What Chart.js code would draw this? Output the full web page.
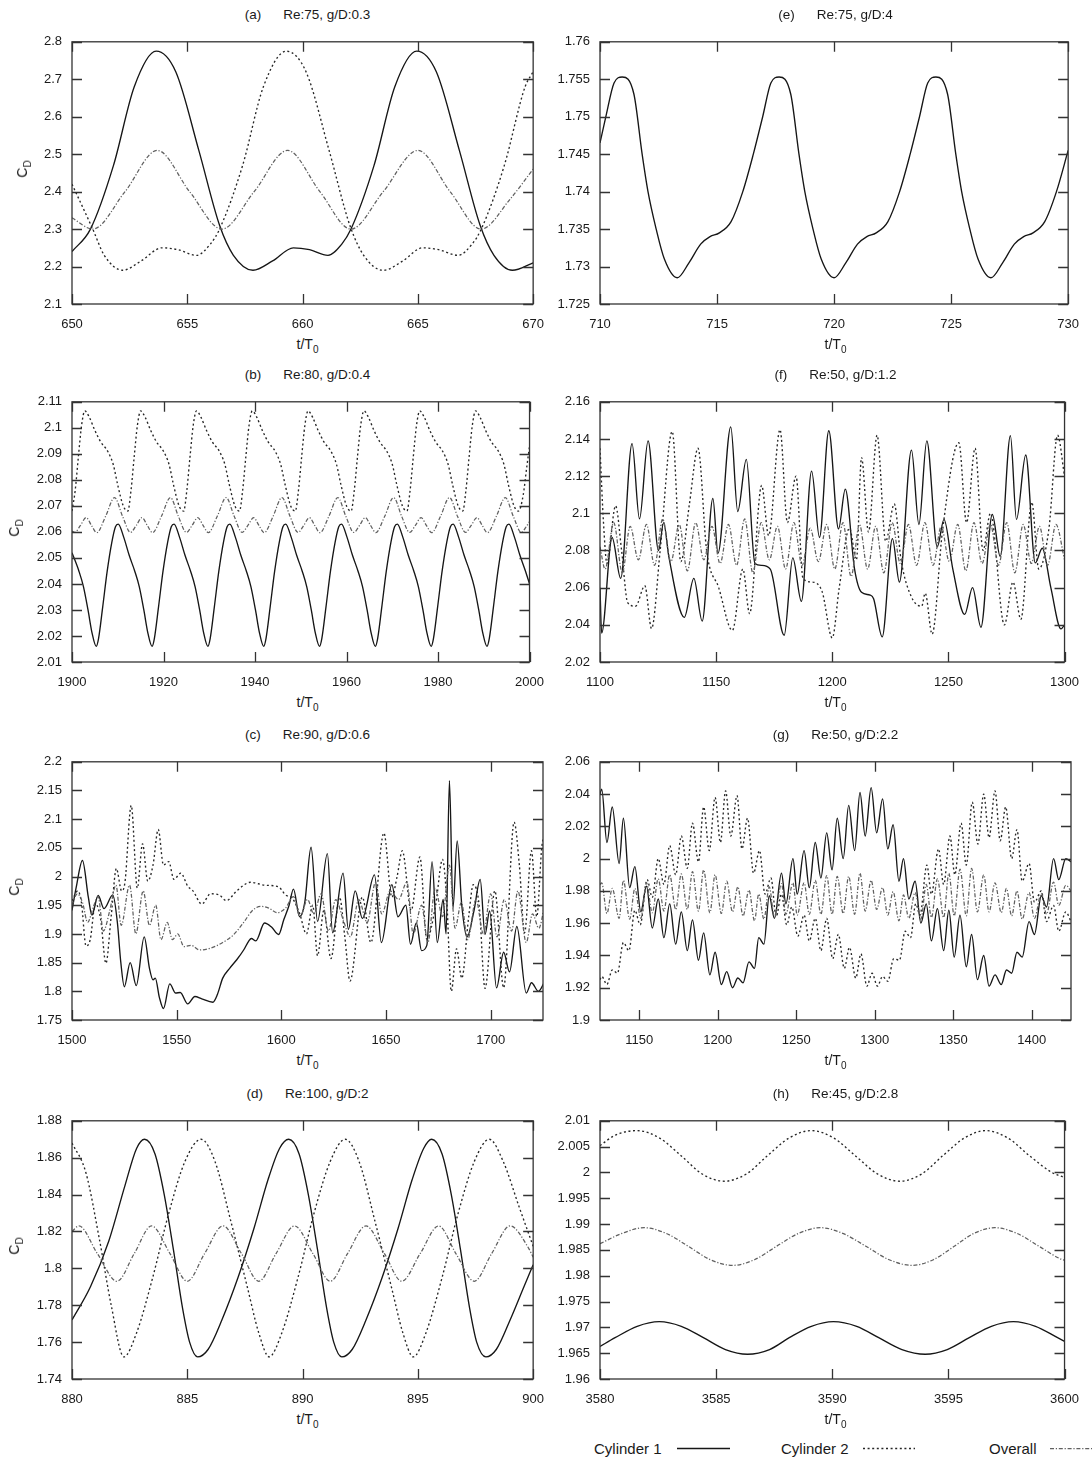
<!DOCTYPE html>
<html>
<head>
<meta charset="utf-8">
<title>Drag coefficient time histories</title>
<script src="https://cdn.jsdelivr.net/npm/chart.js@4.4.1/dist/chart.umd.min.js"></script>
<style>
html,body{margin:0;padding:0;background:#fff;}
#page{position:relative;width:1092px;height:1460px;overflow:hidden;font-family:"Liberation Sans",Arial,Helvetica,sans-serif;color:#1a1a1a;}
#page canvas{position:absolute;}
.ttl,.xl,.yl,.lg{position:absolute;white-space:nowrap;line-height:1;}
.ttl{font-size:13.5px;transform:translate(-50%,-50%);}
.ttl span+span{margin-left:22px;}
.xl{font-size:14px;transform:translate(-50%,-50%);}
.yl{font-size:14px;transform:translate(-50%,-50%) rotate(-90deg);}
.xl sub,.yl sub{font-size:10px;vertical-align:-4px;}
.lg{font-size:15px;transform:translateY(-50%);}
</style>
</head>
<body>
<div id="page"></div>
<script>
// ---------------- Panel (a) Re:75, g/D:0.3 ----------------
const A_XT = ['650','655','660','665','670'];
const A_YT = ['2.1','2.2','2.3','2.4','2.5','2.6','2.7','2.8'];
const A_XR = [650, 670];
const A_C1_T = [650,650.8,651.8,652.7,653.65,654.5,655.5,656.4,657.0,657.85,658.7,659.6,660.3,661.1,661.7,662.1,663.1,664.0,664.95,665.8,666.8,667.7,668.3,669.1,670];
const A_C1   = [2.24,2.30,2.47,2.68,2.775,2.72,2.51,2.31,2.23,2.19,2.215,2.25,2.245,2.23,2.26,2.30,2.47,2.68,2.775,2.72,2.51,2.31,2.23,2.19,2.21];
const A_C2_T = [650,650.9,651.4,652.2,653.0,653.9,654.6,655.4,656.0,656.4,657.4,658.3,659.3,660.15,661.15,662.05,662.65,663.5,664.35,665.2,665.9,666.75,667.35,667.75,668.75,669.65,670];
const A_C2   = [2.42,2.30,2.23,2.19,2.215,2.25,2.245,2.23,2.26,2.30,2.47,2.68,2.775,2.72,2.51,2.31,2.23,2.19,2.215,2.25,2.245,2.23,2.26,2.30,2.47,2.68,2.72];
const A_OV_T = [650,650.9,652.3,653.7,655.1,656.5,657.9,659.35,660.75,662.1,663.5,665.0,666.4,667.75,669.0,670];
const A_OV   = [2.33,2.30,2.40,2.51,2.40,2.30,2.40,2.51,2.40,2.30,2.40,2.51,2.40,2.30,2.38,2.46];

// ---------------- Panel (b) Re:80, g/D:0.4 ----------------
const B_XT = ['1900','1920','1940','1960','1980','2000'];
const B_YT = ['2.01','2.02','2.03','2.04','2.05','2.06','2.07','2.08','2.09','2.1','2.11'];
const B_XR = [1900, 2000];
const B_C1_T = [1900.0,1901.5,1902.5,1903.5,1904.4,1905.3,
 1905.8,1906.7,1907.7,1908.7,1909.5,1910.1,1911.3,1912.5,1913.7,1914.7,1915.7,1916.6,1917.5,
 1918.0,1918.9,1919.9,1920.9,1921.7,1922.3,1923.5,1924.7,1925.9,1926.9,1927.9,1928.8,1929.7,
 1930.2,1931.1,1932.1,1933.1,1933.9,1934.5,1935.7,1936.9,1938.1,1939.1,1940.1,1941.0,1941.9,
 1942.4,1943.3,1944.3,1945.3,1946.1,1946.7,1947.9,1949.1,1950.3,1951.3,1952.3,1953.2,1954.1,
 1954.6,1955.5,1956.5,1957.5,1958.3,1958.9,1960.1,1961.3,1962.5,1963.5,1964.5,1965.4,1966.3,
 1966.8,1967.7,1968.7,1969.7,1970.5,1971.1,1972.3,1973.5,1974.7,1975.7,1976.7,1977.6,1978.5,
 1979.0,1979.9,1980.9,1981.9,1982.7,1983.3,1984.5,1985.7,1986.9,1987.9,1988.9,1989.8,1990.7,
 1991.2,1992.1,1993.1,1994.1,1994.9,1995.5,1996.7,1997.9,1999.1,2000.0];
const B_C1 = [2.052,2.045,2.039,2.030,2.021,2.016,
 2.019,2.031,2.045,2.056,2.062,2.063,2.058,2.051,2.045,2.039,2.030,2.021,2.016,
 2.019,2.031,2.045,2.056,2.062,2.063,2.058,2.051,2.045,2.039,2.030,2.021,2.016,
 2.019,2.031,2.045,2.056,2.062,2.063,2.058,2.051,2.045,2.039,2.030,2.021,2.016,
 2.019,2.031,2.045,2.056,2.062,2.063,2.058,2.051,2.045,2.039,2.030,2.021,2.016,
 2.019,2.031,2.045,2.056,2.062,2.063,2.058,2.051,2.045,2.039,2.030,2.021,2.016,
 2.019,2.031,2.045,2.056,2.062,2.063,2.058,2.051,2.045,2.039,2.030,2.021,2.016,
 2.019,2.031,2.045,2.056,2.062,2.063,2.058,2.051,2.045,2.039,2.030,2.021,2.016,
 2.019,2.031,2.045,2.056,2.062,2.063,2.058,2.051,2.045,2.040];
const B_C2_T = [1900.0,1900.7,1901.4,1902.1,1902.8,
 1903.8,1905.0,1906.3,1907.8,1909.0,1910.0,1911.2,1912.2,1912.9,1913.6,1914.3,1915.0,
 1916.0,1917.2,1918.5,1920.0,1921.2,1922.2,1923.4,1924.4,1925.1,1925.8,1926.5,1927.2,
 1928.2,1929.4,1930.7,1932.2,1933.4,1934.4,1935.6,1936.6,1937.3,1938.0,1938.7,1939.4,
 1940.4,1941.6,1942.9,1944.4,1945.6,1946.6,1947.8,1948.8,1949.5,1950.2,1950.9,1951.6,
 1952.6,1953.8,1955.1,1956.6,1957.8,1958.8,1960.0,1961.0,1961.7,1962.4,1963.1,1963.8,
 1964.8,1966.0,1967.3,1968.8,1970.0,1971.0,1972.2,1973.2,1973.9,1974.6,1975.3,1976.0,
 1977.0,1978.2,1979.5,1981.0,1982.2,1983.2,1984.4,1985.4,1986.1,1986.8,1987.5,1988.2,
 1989.2,1990.4,1991.7,1993.2,1994.4,1995.4,1996.6,1997.6,1998.6,1999.4,2000.0];
const B_C2 = [2.068,2.076,2.089,2.101,2.1065,
 2.104,2.099,2.0945,2.091,2.086,2.078,2.070,2.068,2.076,2.089,2.101,2.1065,
 2.104,2.099,2.0945,2.091,2.086,2.078,2.070,2.068,2.076,2.089,2.101,2.1065,
 2.104,2.099,2.0945,2.091,2.086,2.078,2.070,2.068,2.076,2.089,2.101,2.1065,
 2.104,2.099,2.0945,2.091,2.086,2.078,2.070,2.068,2.076,2.089,2.101,2.1065,
 2.104,2.099,2.0945,2.091,2.086,2.078,2.070,2.068,2.076,2.089,2.101,2.1065,
 2.104,2.099,2.0945,2.091,2.086,2.078,2.070,2.068,2.076,2.089,2.101,2.1065,
 2.104,2.099,2.0945,2.091,2.086,2.078,2.070,2.068,2.076,2.089,2.101,2.1065,
 2.104,2.099,2.0945,2.091,2.086,2.078,2.070,2.068,2.074,2.085,2.093];
const B_OV_T = [1900.0,1900.6,1901.85,
 1903.1,1904.25,1905.4,1907.35,1909.3,1911.05,1912.8,1914.05,
 1915.3,1916.45,1917.6,1919.55,1921.5,1923.25,1925.0,1926.25,
 1927.5,1928.65,1929.8,1931.75,1933.7,1935.45,1937.2,1938.45,
 1939.7,1940.85,1942.0,1943.95,1945.9,1947.65,1949.4,1950.65,
 1951.9,1953.05,1954.2,1956.15,1958.1,1959.85,1961.6,1962.85,
 1964.1,1965.25,1966.4,1968.35,1970.3,1972.05,1973.8,1975.05,
 1976.3,1977.45,1978.6,1980.55,1982.5,1984.25,1986.0,1987.25,
 1988.5,1989.65,1990.8,1992.75,1994.7,1996.45,1998.2,1999.45,2000.0];
const B_OV = [2.0603,2.0598,2.0625,
 2.0655,2.0625,2.0597,2.066,2.0732,2.066,2.0598,2.0625,
 2.0655,2.0625,2.0597,2.066,2.0732,2.066,2.0598,2.0625,
 2.0655,2.0625,2.0597,2.066,2.0732,2.066,2.0598,2.0625,
 2.0655,2.0625,2.0597,2.066,2.0732,2.066,2.0598,2.0625,
 2.0655,2.0625,2.0597,2.066,2.0732,2.066,2.0598,2.0625,
 2.0655,2.0625,2.0597,2.066,2.0732,2.066,2.0598,2.0625,
 2.0655,2.0625,2.0597,2.066,2.0732,2.066,2.0598,2.0625,
 2.0655,2.0625,2.0597,2.066,2.0732,2.066,2.0598,2.0625,2.064];

// ---------------- Panel (c) Re:90, g/D:0.6 ----------------
const C_XT = ['1500','1550','1600','1650','1700'];
const C_YT = ['1.75','1.8','1.85','1.9','1.95','2','2.05','2.1','2.15','2.2'];
const C_XR = [1500, 1725];
const C_C1_T = [1500.0,1502.0,1505.0,1507.8,1509.5,1512.5,1515.3,1519.5,1521.7,1523.3,1525.0,1527.8,1530.7,1534.5,1537.0,1538.7,1539.8,1541.7,1543.7,1546.7,1549.5,1551.7,1555.3,1558.7,1562.0,1567.3,1569.5,1572.0,1575.3,1578.7,1582.0,1584.5,1585.7,1587.8,1592.0,1595.3,1598.7,1601.2,1603.7,1605.8,1608.7,1611.2,1614.2,1617.3,1622.0,1624.5,1629.5,1632.0,1635.3,1638.7,1644.5,1647.8,1652.8,1655.7,1659.5,1661.7,1664.5,1667.0,1669.5,1672.0,1674.5,1677.3,1678.7,1680.3,1682.0,1684.0,1686.2,1688.7,1692.0,1695.0,1697.3,1699.5,1702.8,1706.2,1709.0,1712.5,1717.0,1719.5,1722.8,1725.8];
const C_C1   = [1.941,1.981,2.028,1.964,1.933,1.967,1.944,1.968,1.919,1.851,1.808,1.850,1.810,1.895,1.840,1.820,1.823,1.790,1.770,1.813,1.797,1.798,1.778,1.791,1.787,1.781,1.795,1.823,1.840,1.855,1.872,1.888,1.892,1.888,1.919,1.912,1.899,1.925,1.950,1.978,1.930,1.955,2.051,1.922,2.040,1.902,2.006,1.908,1.975,1.927,2.003,1.885,1.986,1.930,1.950,1.882,1.919,1.871,1.880,2.026,1.885,1.960,1.900,2.167,1.945,2.062,1.950,1.895,1.940,1.995,1.899,1.940,1.806,1.868,1.834,1.913,1.797,1.815,1.800,1.817];
const C_C2_T = [1500.0,1502.8,1504.5,1506.7,1508.7,1511.2,1513.7,1516.2,1518.7,1521.2,1523.7,1525.3,1528.3,1531.2,1533.7,1536.2,1538.7,1541.2,1543.7,1546.2,1548.7,1552.0,1555.3,1557.8,1562.0,1566.2,1570.3,1573.7,1578.7,1585.3,1592.0,1598.7,1602.0,1605.3,1608.7,1612.0,1615.0,1617.3,1620.3,1623.7,1627.8,1630.3,1632.8,1638.7,1642.8,1649.0,1652.8,1655.3,1657.8,1662.0,1666.2,1669.5,1673.7,1677.0,1679.0,1681.2,1683.7,1686.2,1689.5,1691.7,1694.5,1697.3,1702.0,1706.2,1711.2,1713.7,1716.2,1719.5,1722.0,1724.5,1725.8];
const C_C2   = [1.958,1.975,1.955,1.879,1.890,1.953,1.925,1.849,1.930,2.014,1.975,1.990,2.124,1.980,2.057,1.992,2.020,2.082,2.020,2.026,1.995,2.006,1.983,1.975,1.952,1.970,1.968,1.958,1.975,1.990,1.985,1.982,1.968,1.962,1.936,1.900,1.950,1.862,1.941,1.857,1.964,1.896,1.818,1.964,1.885,2.076,1.964,2.000,2.045,1.941,2.034,1.891,1.950,2.030,1.960,1.800,1.874,1.823,1.930,1.986,1.950,1.805,1.975,1.806,2.095,2.020,1.902,2.045,1.930,2.054,2.070];
const C_OV_T = [1500.0,1502.5,1505.0,1507.5,1510.0,1512.5,1515.0,1518.0,1521.0,1523.5,1527.5,1530.5,1534.0,1537.0,1540.0,1542.5,1545.5,1548.0,1550.5,1553.5,1557.0,1561.0,1566.0,1572.0,1577.0,1582.0,1586.0,1590.0,1594.0,1598.0,1602.0,1605.8,1609.0,1612.5,1615.5,1619.0,1622.5,1626.0,1629.5,1633.0,1637.0,1641.0,1645.0,1648.0,1652.0,1656.0,1660.0,1663.0,1667.0,1670.0,1673.5,1677.0,1680.3,1683.0,1686.0,1689.0,1693.0,1696.5,1700.0,1703.0,1706.5,1710.0,1713.0,1717.0,1720.0,1723.0,1725.8];
const C_OV   = [1.950,1.970,1.955,1.920,1.945,1.965,1.905,1.940,1.985,1.915,1.985,1.900,1.975,1.915,1.950,1.890,1.920,1.890,1.900,1.878,1.880,1.872,1.875,1.885,1.898,1.920,1.940,1.948,1.945,1.937,1.945,1.965,1.930,1.960,1.935,1.970,1.905,1.960,1.925,1.895,1.960,1.920,1.990,1.935,1.975,1.960,1.990,1.900,1.950,1.885,1.980,1.930,2.020,1.910,1.955,1.890,1.960,1.900,1.970,1.895,1.960,1.905,1.975,1.885,1.935,1.910,1.950];

// ---------------- Panel (d) Re:100, g/D:2 ----------------
const D_XT = ['880','885','890','895','900'];
const D_YT = ['1.74','1.76','1.78','1.8','1.82','1.84','1.86','1.88'];
const D_XR = [880, 900];
const D_C1_T = [880,880.8,881.6,882.3,882.8,883.15,883.6,884.0,884.4,884.8,885.1,885.45,885.9,886.5,887.2,887.9,888.5,889.0,889.4,889.85,890.25,890.65,891.05,891.35,891.7,892.15,892.75,893.45,894.15,894.75,895.25,895.6,896.05,896.45,896.85,897.25,897.55,897.95,898.4,899.0,899.6,900];
const D_C1   = [1.772,1.790,1.815,1.845,1.865,1.870,1.862,1.840,1.810,1.778,1.760,1.752,1.756,1.772,1.795,1.822,1.848,1.865,1.870,1.862,1.840,1.810,1.778,1.760,1.752,1.756,1.772,1.795,1.822,1.848,1.865,1.870,1.862,1.840,1.810,1.778,1.760,1.752,1.756,1.772,1.790,1.802];
const D_C2_T = [880,880.6,881.2,881.7,882.25,882.8,883.5,884.2,884.9,885.6,886.2,886.9,887.6,888.1,888.55,889.1,889.8,890.5,891.2,891.85,892.45,893.15,893.85,894.35,894.8,895.35,896.05,896.75,897.45,898.1,898.7,899.4,900];
const D_C2   = [1.868,1.852,1.815,1.780,1.752,1.765,1.795,1.830,1.858,1.870,1.858,1.825,1.790,1.765,1.752,1.765,1.795,1.830,1.858,1.870,1.858,1.825,1.790,1.765,1.752,1.765,1.795,1.830,1.858,1.870,1.858,1.833,1.812];
const D_OV_T = [880,880.3,881.1,881.95,882.7,883.45,884.25,885.0,885.75,886.55,887.35,888.1,888.85,889.65,890.45,891.2,891.95,892.75,893.55,894.3,895.1,895.9,896.65,897.45,898.2,899.0,899.8,900];
const D_OV   = [1.820,1.823,1.808,1.793,1.808,1.823,1.808,1.793,1.808,1.823,1.808,1.793,1.808,1.823,1.808,1.793,1.808,1.823,1.808,1.793,1.808,1.823,1.808,1.793,1.808,1.823,1.811,1.806];

// ---------------- Panel (e) Re:75, g/D:4 ----------------
const E_XT = ['710','715','720','725','730'];
const E_YT = ['1.725','1.73','1.735','1.74','1.745','1.75','1.755','1.76'];
const E_XR = [710, 730];
const E_C1_T = [710,710.25,710.6,710.95,711.45,711.8,712.05,712.4,712.75,713.3,713.8,714.3,714.7,715.1,715.6,716.1,716.55,716.95,717.3,717.65,718.15,718.5,718.75,719.1,719.45,720.0,720.5,721.0,721.4,721.8,722.3,722.8,723.25,723.65,724.0,724.35,724.85,725.2,725.45,725.8,726.15,726.7,727.2,727.7,728.1,728.5,729.0,729.5,730];
const E_C1   = [1.7465,1.750,1.7545,1.7553,1.753,1.745,1.740,1.735,1.731,1.7285,1.7305,1.733,1.734,1.7345,1.736,1.740,1.745,1.750,1.7545,1.7553,1.753,1.745,1.740,1.735,1.731,1.7285,1.7305,1.733,1.734,1.7345,1.736,1.740,1.745,1.750,1.7545,1.7553,1.753,1.745,1.740,1.735,1.731,1.7285,1.7305,1.733,1.734,1.7345,1.736,1.740,1.7455];

// ---------------- Panel (f) Re:50, g/D:1.2 ----------------
const F_XT = ['1100','1150','1200','1250','1300'];
const F_YT = ['2.02','2.04','2.06','2.08','2.1','2.12','2.14','2.16'];
const F_XR = [1100, 1300];
const F_C1_T = [1100,1100.7,1105.2,1108.9,1113.8,1117.0,1120.7,1125.2,1127.4,1129.6,1136.3,1140.4,1144.0,1148.6,1150.8,1156.3,1159.3,1163.0,1166.7,1169.6,1173.3,1179.3,1183.0,1186.7,1191.1,1194.5,1198.5,1202.7,1205.6,1209.6,1212.6,1216.3,1217.8,1221.5,1225.9,1228.9,1234.1,1237.3,1240.7,1245.2,1248.1,1251.9,1257.0,1260.4,1264.0,1268.9,1272.3,1276.7,1279.3,1283.3,1287.4,1290.4,1294.1,1298.5,1300];
const F_C1   = [2.06,2.0355,2.087,2.065,2.1375,2.097,2.139,2.080,2.095,2.077,2.044,2.065,2.042,2.108,2.0785,2.1465,2.101,2.129,2.073,2.072,2.070,2.0344,2.076,2.0526,2.1227,2.087,2.1444,2.0916,2.113,2.070,2.0575,2.056,2.054,2.0335,2.0864,2.063,2.134,2.094,2.139,2.082,2.0967,2.070,2.0456,2.060,2.0387,2.0994,2.0768,2.1418,2.0967,2.1314,2.0733,2.0812,2.060,2.0378,2.040];
const F_C2_T = [1100,1101.5,1103.0,1106.7,1109.3,1111.9,1115.3,1119.3,1122.2,1125.9,1131.1,1134.8,1138.5,1142.2,1145.9,1151.1,1157.0,1161.5,1164.4,1169.6,1172.6,1177.5,1180.7,1184.4,1187.4,1191.1,1195.6,1200.0,1203.0,1207.4,1210.4,1212.6,1215.6,1219.3,1223.0,1226.7,1229.6,1234.1,1238.5,1240.0,1243.0,1247.4,1254.5,1257.8,1261.5,1264.9,1268.1,1274.1,1277.8,1281.2,1285.9,1288.9,1293.3,1297.0,1300];
const F_C2   = [2.135,2.095,2.073,2.104,2.080,2.052,2.050,2.061,2.038,2.080,2.144,2.074,2.105,2.135,2.080,2.060,2.037,2.070,2.046,2.115,2.088,2.145,2.095,2.120,2.065,2.063,2.058,2.033,2.060,2.092,2.075,2.130,2.090,2.142,2.085,2.105,2.075,2.055,2.050,2.057,2.035,2.090,2.138,2.095,2.135,2.080,2.100,2.040,2.063,2.043,2.106,2.070,2.092,2.142,2.120];
const F_OV_T = [1100.0,1102.2,1105.9,1109.6,1113.0,1116.5,1120.0,1123.5,1127.0,1130.5,1134.1,1137.6,1141.2,1144.7,1148.2,1151.7,1155.3,1158.8,1162.3,1165.8,1169.4,1172.9,1176.4,1179.9,1183.5,1187.0,1190.5,1194.0,1197.6,1201.1,1204.6,1208.1,1211.7,1215.2,1218.7,1222.2,1225.8,1229.3,1232.8,1236.3,1239.9,1243.4,1246.9,1250.4,1254.0,1257.5,1261.0,1264.5,1268.1,1271.6,1275.1,1278.6,1282.2,1285.7,1289.2,1292.7,1296.3,1300];
const F_OV   = [2.082,2.070,2.095,2.068,2.093,2.075,2.094,2.072,2.097,2.074,2.094,2.069,2.095,2.075,2.093,2.073,2.094,2.072,2.097,2.068,2.095,2.075,2.093,2.070,2.095,2.072,2.092,2.074,2.094,2.070,2.095,2.066,2.094,2.070,2.093,2.068,2.095,2.073,2.094,2.072,2.095,2.072,2.093,2.074,2.094,2.069,2.095,2.073,2.094,2.072,2.095,2.068,2.094,2.073,2.093,2.072,2.094,2.075];

// ---------------- Panel (g) Re:50, g/D:2.2 ----------------
const G_XT = ['1150','1200','1250','1300','1350','1400'];
const G_YT = ['1.9','1.92','1.94','1.96','1.98','2','2.02','2.04','2.06'];
const G_XR = [1125, 1425];
const G_C1_T = [1125.0,1126.1,1129.4,1132.8,1137.2,1139.9,1143.9,1147.2,1151.0,1154.6,1158.3,1162.1,1165.7,1169.4,1173.2,1176.8,1180.6,1183.9,1187.7,1191.0,1195.0,1198.3,1202.3,1205.7,1209.4,1212.8,1216.1,1219.9,1223.4,1226.1,1229.4,1232.8,1236.1,1240.6,1243.4,1247.9,1250.6,1255.0,1258.3,1262.1,1265.7,1269.4,1272.8,1276.1,1279.9,1283.4,1287.2,1290.6,1293.9,1297.7,1301.2,1305.0,1308.3,1311.7,1315.4,1318.3,1321.7,1325.7,1329.4,1332.8,1336.1,1339.9,1343.9,1347.2,1350.6,1354.3,1358.3,1361.7,1365.4,1369.4,1372.8,1376.6,1380.6,1383.9,1387.2,1390.6,1393.9,1398.3,1401.7,1406.1,1409.4,1413.9,1417.2,1421.7,1425.0];
const G_C1   = [2.040,2.043,2.010,2.032,1.997,2.025,1.982,1.995,1.967,1.983,1.957,1.975,1.951,1.972,1.947,1.967,1.943,1.962,1.937,1.954,1.928,1.942,1.922,1.930,1.920,1.926,1.923,1.936,1.932,1.951,1.947,1.977,1.963,1.991,1.972,2.000,1.978,2.005,1.982,2.010,1.988,2.016,1.993,2.025,2.000,2.033,2.005,2.041,2.014,2.044,2.016,2.037,2.006,2.021,1.986,2.000,1.975,1.986,1.960,1.972,1.949,1.969,1.943,1.968,1.939,1.965,1.933,1.953,1.925,1.940,1.921,1.928,1.922,1.931,1.929,1.942,1.939,1.961,1.953,1.977,1.970,2.000,1.987,2.000,1.998];
const G_C2_T = [1125.0,1126.1,1129.4,1132.8,1136.1,1139.9,1143.4,1147.2,1150.6,1155.0,1158.3,1162.1,1165.7,1169.4,1173.2,1176.8,1180.6,1183.9,1187.7,1191.0,1194.6,1198.3,1201.7,1205.0,1208.3,1212.3,1215.4,1219.0,1222.8,1226.6,1230.1,1233.9,1237.2,1240.6,1243.9,1247.2,1251.0,1255.0,1258.3,1262.1,1265.7,1269.4,1273.2,1276.8,1280.6,1283.9,1287.9,1291.2,1295.0,1298.3,1301.7,1305.0,1308.3,1312.1,1315.7,1319.4,1322.8,1326.1,1328.8,1333.2,1336.1,1340.6,1343.9,1347.9,1351.0,1355.0,1358.3,1362.1,1365.7,1369.4,1372.8,1376.6,1379.9,1383.4,1387.2,1390.6,1393.9,1398.3,1401.7,1406.1,1409.4,1413.9,1417.2,1421.7,1425.0];
const G_C2   = [1.925,1.927,1.922,1.931,1.929,1.948,1.943,1.968,1.959,1.987,1.976,2.000,1.984,2.008,1.990,2.014,1.994,2.022,1.998,2.032,2.005,2.038,2.010,2.042,2.014,2.039,2.006,2.025,1.991,2.005,1.978,1.988,1.964,1.978,1.959,1.970,1.952,1.965,1.949,1.963,1.943,1.963,1.938,1.953,1.932,1.945,1.926,1.941,1.921,1.929,1.921,1.927,1.924,1.938,1.937,1.955,1.951,1.972,1.965,1.996,1.978,2.006,1.984,2.014,1.990,2.022,1.996,2.035,2.009,2.040,2.013,2.042,2.011,2.032,2.000,2.018,1.986,1.997,1.973,1.980,1.961,1.971,1.955,1.967,1.961];
const G_OV_T = G_C1_T;
const G_OV   = [1.984,1.985,1.966,1.9815,1.963,1.9865,1.9625,1.9815,1.963,1.985,1.9665,1.9875,1.9675,1.990,1.9685,1.9905,1.9685,1.992,1.9675,1.993,1.9665,1.990,1.966,1.986,1.967,1.9825,1.9645,1.9805,1.9615,1.978,1.9625,1.9825,1.9635,1.9845,1.9655,1.985,1.965,1.985,1.9655,1.9865,1.9655,1.9895,1.9655,1.989,1.966,1.989,1.9655,1.991,1.9675,1.9865,1.9685,1.982,1.965,1.9795,1.9615,1.9775,1.963,1.979,1.9625,1.984,1.9635,1.9875,1.9635,1.991,1.9645,1.9935,1.9645,1.994,1.967,1.990,1.967,1.985,1.9665,1.9815,1.9645,1.980,1.9625,1.979,1.963,1.9785,1.9655,1.9855,1.971,1.9835,1.980];

// ---------------- Panel (h) Re:45, g/D:2.8 ----------------
const H_XT = ['3580','3585','3590','3595','3600'];
const H_YT = ['1.96','1.965','1.97','1.975','1.98','1.985','1.99','1.995','2','2.005','2.01'];
const H_XR = [3580, 3600];
const H_C1_T = [3580,3580.65,3581.6,3582.55,3583.5,3584.45,3585.4,3586.35,3587.3,3588.15,3589.1,3590.05,3591.05,3592.0,3593.0,3594.0,3594.95,3595.9,3596.85,3597.8,3598.75,3599.7,3600];
const H_C1   = [1.9663,1.9680,1.9702,1.9711,1.9702,1.9680,1.9657,1.9648,1.9657,1.9680,1.9702,1.9711,1.9702,1.9680,1.9657,1.9648,1.9657,1.9680,1.9702,1.9711,1.9702,1.9680,1.9673];
const H_C2_T = [3580.0,3580.65,3581.6,3582.55,3583.5,3584.4,3585.35,3586.3,3587.2,3588.15,3589.1,3590.05,3591.0,3591.95,3592.9,3593.85,3594.75,3595.7,3596.6,3597.55,3598.5,3599.45,3600];
const H_C2   = [2.0052,2.0072,2.0081,2.0067,2.0032,1.9997,1.9983,1.9997,2.0032,2.0067,2.0081,2.0067,2.0032,1.9997,1.9983,1.9997,2.0032,2.0067,2.0081,2.0067,2.0032,2.0000,1.9990];
const H_OV_T = [3580.0,3580.95,3581.9,3582.85,3583.8,3584.75,3585.7,3586.65,3587.6,3588.55,3589.5,3590.45,3591.45,3592.45,3593.45,3594.35,3595.25,3596.1,3597.0,3597.95,3598.9,3599.85,3600];
const H_OV   = [1.9862,1.9882,1.9893,1.9882,1.9857,1.9831,1.9820,1.9831,1.9857,1.9882,1.9893,1.9882,1.9857,1.9831,1.9820,1.9831,1.9857,1.9882,1.9893,1.9882,1.9857,1.9832,1.9830];

// Legend
const LEGEND_NAMES = ['Cylinder 1','Cylinder 2','Overall'];

// ---------------- rendering ----------------
const STYLES = {
  c1: {color:'#161616', width:1.35, dash:[]},
  c2: {color:'#262626', width:1.35, dash:[2,2.6]},
  ov: {color:'#606060', width:1.25, dash:[4,1.8,1.2,1.8]}
};

const PANELS = [
  {tag:'(a)', text:'Re:75, g/D:0.3',  L:72,  T:34,  R:543,  B:304,  cdx:24, xt:A_XT, yt:A_YT, xr:A_XR,
   series:[[A_C1_T,A_C1,'c1'],[A_C2_T,A_C2,'c2'],[A_OV_T,A_OV,'ov']]},
  {tag:'(b)', text:'Re:80, g/D:0.4',  L:72,  T:394, R:543,  B:662,  cdx:16, xt:B_XT, yt:B_YT, xr:B_XR,
   series:[[B_C1_T,B_C1,'c1'],[B_C2_T,B_C2,'c2'],[B_OV_T,B_OV,'ov']]},
  {tag:'(c)', text:'Re:90, g/D:0.6',  L:72,  T:754, R:543,  B:1020, cdx:16, xt:C_XT, yt:C_YT, xr:C_XR,
   series:[[C_C1_T,C_C1,'c1'],[C_C2_T,C_C2,'c2'],[C_OV_T,C_OV,'ov']]},
  {tag:'(d)', text:'Re:100, g/D:2',   L:72,  T:1113,R:543,  B:1379, cdx:16, xt:D_XT, yt:D_YT, xr:D_XR,
   series:[[D_C1_T,D_C1,'c1'],[D_C2_T,D_C2,'c2'],[D_OV_T,D_OV,'ov']]},
  {tag:'(e)', text:'Re:75, g/D:4',    L:600, T:34,  R:1071, B:304,  cdx:null, xt:E_XT, yt:E_YT, xr:E_XR,
   series:[[E_C1_T,E_C1,'c1']]},
  {tag:'(f)', text:'Re:50, g/D:1.2',  L:600, T:394, R:1071, B:662,  cdx:null, xt:F_XT, yt:F_YT, xr:F_XR,
   series:[[F_C1_T,F_C1,'c1'],[F_C2_T,F_C2,'c2'],[F_OV_T,F_OV,'ov']]},
  {tag:'(g)', text:'Re:50, g/D:2.2',  L:600, T:754, R:1071, B:1020, cdx:null, xt:G_XT, yt:G_YT, xr:G_XR,
   series:[[G_C1_T,G_C1,'c1'],[G_C2_T,G_C2,'c2'],[G_OV_T,G_OV,'ov']]},
  {tag:'(h)', text:'Re:45, g/D:2.8',  L:600, T:1113,R:1071, B:1379, cdx:null, xt:H_XT, yt:H_YT, xr:H_XR,
   series:[[H_C1_T,H_C1,'c1'],[H_C2_T,H_C2,'c2'],[H_OV_T,H_OV,'ov']]}
];

const framePlugin = {
  id: 'gnuframe',
  afterDatasetsDraw(chart) {
    const ctx = chart.ctx, a = chart.chartArea, xs = chart.scales.x, ys = chart.scales.y;
    ctx.save();
    ctx.strokeStyle = '#333';
    ctx.lineWidth = 1.3;
    ctx.beginPath();
    xs.ticks.forEach(t => {
      const px = Math.round(xs.getPixelForValue(t.value)) + 0.5;
      ctx.moveTo(px, a.bottom); ctx.lineTo(px, a.bottom - 10);
      ctx.moveTo(px, a.top);    ctx.lineTo(px, a.top + 10);
    });
    ys.ticks.forEach(t => {
      const py = Math.round(ys.getPixelForValue(t.value)) + 0.5;
      ctx.moveTo(a.left, py);  ctx.lineTo(a.left + 10, py);
      ctx.moveTo(a.right, py); ctx.lineTo(a.right - 10, py);
    });
    ctx.stroke();
    ctx.strokeRect(a.left, a.top, a.right - a.left, a.bottom - a.top);
    ctx.restore();
  }
};

const page = document.getElementById('page');
function addDiv(cls, html, x, y) {
  const d = document.createElement('div');
  d.className = cls; d.innerHTML = html;
  d.style.left = x + 'px'; d.style.top = y + 'px';
  page.appendChild(d);
  return d;
}

const FONT = {family:'"Liberation Sans", Arial, sans-serif', size:13};

PANELS.forEach(p => {
  const isLeft = p.L < 300;
  const left = isLeft ? 0 : 544;
  const padR = isLeft ? 14 : 1092 - p.R;
  const yw = p.L - left;
  const padT = 10, xh = 32;
  const W = p.R - left + padR, H = p.B - p.T + padT + xh;
  const cv = document.createElement('canvas');
  cv.width = W; cv.height = H;
  cv.style.left = left + 'px'; cv.style.top = (p.T - padT) + 'px';
  cv.style.width = W + 'px'; cv.style.height = H + 'px';
  page.appendChild(cv);

  const xv = p.xt.map(Number), yv = p.yt.map(Number);
  const datasets = p.series.map(s => {
    const st = STYLES[s[2]];
    return {
      data: s[0].map((t, i) => ({x: t, y: s[1][i]})),
      borderColor: st.color, borderWidth: st.width, borderDash: st.dash,
      pointRadius: 0, pointHoverRadius: 0, fill: false,
      cubicInterpolationMode: 'monotone'
    };
  }).reverse();

  new Chart(cv.getContext('2d'), {
    type: 'line',
    data: {datasets},
    options: {
      responsive: false, animation: false, devicePixelRatio: 1,
      events: [],
      layout: {padding: {left: 0, top: padT, right: padR, bottom: 0}},
      plugins: {legend: {display: false}, tooltip: {enabled: false}, title: {display: false}},
      scales: {
        x: {
          type: 'linear', min: p.xr[0], max: p.xr[1],
          afterBuildTicks: s => { s.ticks = xv.map(v => ({value: v})); },
          afterFit: s => { s.height = xh; },
          grid: {display: false, drawTicks: false, tickLength: 0}, border: {display: false},
          ticks: {autoSkip: false, maxRotation: 0, minRotation: 0, padding: 13, color: '#1a1a1a', font: FONT,
                  callback: (v, i) => p.xt[i]}
        },
        y: {
          type: 'linear', min: yv[0], max: yv[yv.length - 1],
          afterBuildTicks: s => { s.ticks = yv.map(v => ({value: v})); },
          afterFit: s => { s.width = yw; },
          grid: {display: false, drawTicks: false, tickLength: 0}, border: {display: false},
          ticks: {autoSkip: false, padding: 10, color: '#1a1a1a', font: FONT,
                  callback: (v, i) => p.yt[i]}
        }
      }
    },
    plugins: [framePlugin]
  });

  addDiv('ttl', '<span>' + p.tag + '</span><span>' + p.text + '</span>', (p.L + p.R) / 2, p.T - 19);
  addDiv('xl', 't/T<sub>0</sub>', (p.L + p.R) / 2, p.B + 42);
  if (p.cdx !== null) addDiv('yl', 'C<sub>D</sub>', p.cdx, (p.T + p.B) / 2);
});

// legend
addDiv('lg', LEGEND_NAMES[0], 594, 1448);
addDiv('lg', LEGEND_NAMES[1], 781, 1448);
addDiv('lg', LEGEND_NAMES[2], 989, 1448);
const svgNS = 'http://www.w3.org/2000/svg';
const svg = document.createElementNS(svgNS, 'svg');
svg.setAttribute('width', '1092'); svg.setAttribute('height', '20');
svg.style.position = 'absolute'; svg.style.left = '0px'; svg.style.top = '1438px';
[[677, 730, 'c1'], [863, 915, 'c2'], [1050, 1092, 'ov']].forEach(l => {
  const st = STYLES[l[2]];
  const ln = document.createElementNS(svgNS, 'line');
  ln.setAttribute('x1', l[0]); ln.setAttribute('x2', l[1]);
  ln.setAttribute('y1', '10.5'); ln.setAttribute('y2', '10.5');
  ln.setAttribute('stroke', st.color); ln.setAttribute('stroke-width', st.width);
  if (st.dash.length) ln.setAttribute('stroke-dasharray', st.dash.join(' '));
  svg.appendChild(ln);
});
page.appendChild(svg);
</script>
</body>
</html>
